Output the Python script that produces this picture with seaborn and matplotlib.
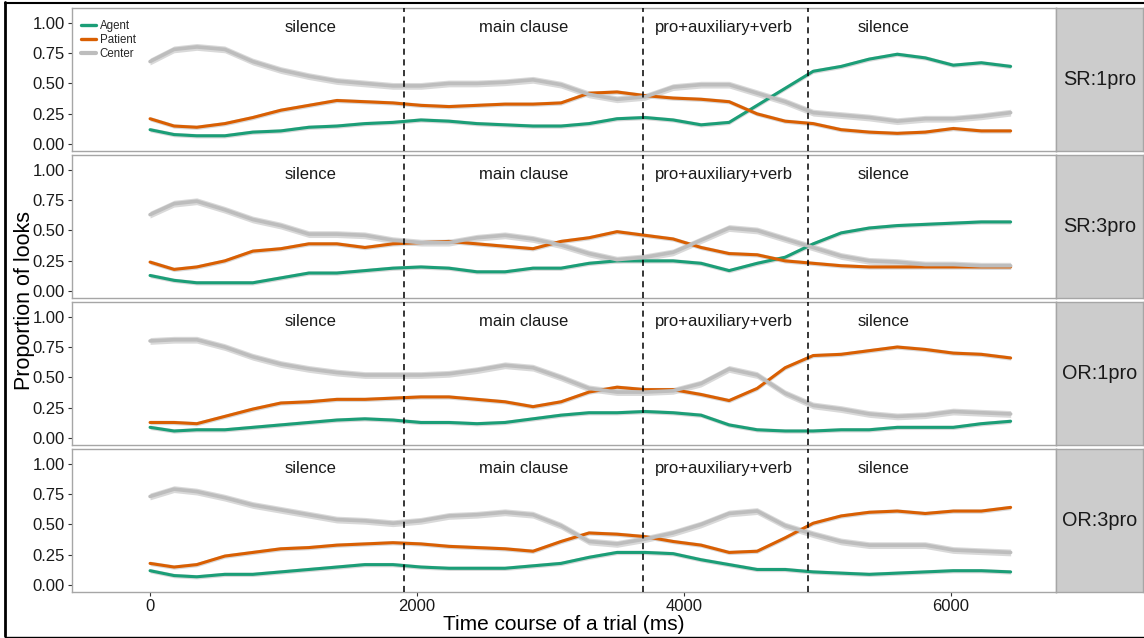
import numpy as np
import pandas as pd
import matplotlib
matplotlib.use("Agg")
import matplotlib.pyplot as plt
from matplotlib.lines import Line2D
import seaborn as sns

sns.set_theme(style="white")
plt.rcParams["font.family"] = ["Liberation Sans", "DejaVu Sans"]

# ---------------- data ----------------
time_ms = [0, 180, 350, 560, 770, 980, 1190, 1400, 1610, 1820, 2030, 2240, 2450, 2660,
           2870, 3080, 3290, 3500, 3710, 3920, 4130, 4340, 4550, 4760, 4970, 5180, 5390,
           5600, 5810, 6020, 6230, 6450]

conditions = ["SR:1pro", "SR:3pro", "OR:1pro", "OR:3pro"]
regions = ["Agent", "Patient", "Center"]

sr1_agent = [0.12, 0.08, 0.07, 0.07, 0.10, 0.11, 0.14, 0.15, 0.17, 0.18, 0.20, 0.19, 0.17, 0.16,
             0.15, 0.15, 0.17, 0.21, 0.22, 0.20, 0.16, 0.18, 0.32, 0.46, 0.60, 0.64, 0.70,
             0.74, 0.71, 0.65, 0.67, 0.64]
sr1_patient = [0.21, 0.15, 0.14, 0.17, 0.22, 0.28, 0.32, 0.36, 0.35, 0.34, 0.32, 0.31, 0.32, 0.33,
               0.33, 0.34, 0.42, 0.43, 0.40, 0.38, 0.37, 0.35, 0.25, 0.19, 0.17, 0.12, 0.10,
               0.09, 0.10, 0.13, 0.11, 0.11]
sr1_center = [0.68, 0.78, 0.80, 0.78, 0.68, 0.61, 0.56, 0.52, 0.50, 0.48, 0.48, 0.50, 0.50, 0.51,
              0.53, 0.49, 0.41, 0.37, 0.39, 0.47, 0.49, 0.49, 0.42, 0.35, 0.26, 0.24, 0.22,
              0.19, 0.21, 0.21, 0.23, 0.26]

sr3_agent = [0.13, 0.09, 0.07, 0.07, 0.07, 0.11, 0.15, 0.15, 0.17, 0.19, 0.20, 0.19, 0.16, 0.16,
             0.19, 0.19, 0.23, 0.25, 0.25, 0.25, 0.23, 0.17, 0.23, 0.28, 0.39, 0.48, 0.52,
             0.54, 0.55, 0.56, 0.57, 0.57]
sr3_patient = [0.24, 0.18, 0.20, 0.25, 0.33, 0.35, 0.39, 0.39, 0.36, 0.39, 0.40, 0.41, 0.39, 0.37,
               0.35, 0.41, 0.44, 0.49, 0.46, 0.43, 0.36, 0.31, 0.30, 0.25, 0.23, 0.21, 0.20,
               0.20, 0.20, 0.20, 0.20, 0.20]
sr3_center = [0.63, 0.72, 0.74, 0.67, 0.59, 0.54, 0.47, 0.47, 0.46, 0.42, 0.40, 0.40, 0.44, 0.46,
              0.43, 0.38, 0.31, 0.26, 0.28, 0.32, 0.42, 0.52, 0.50, 0.43, 0.36, 0.29, 0.25,
              0.24, 0.22, 0.22, 0.21, 0.21]

or1_agent = [0.09, 0.06, 0.07, 0.07, 0.09, 0.11, 0.13, 0.15, 0.16, 0.15, 0.13, 0.13, 0.12, 0.13,
             0.16, 0.19, 0.21, 0.21, 0.22, 0.21, 0.19, 0.11, 0.07, 0.06, 0.06, 0.07, 0.07,
             0.09, 0.09, 0.09, 0.12, 0.14]
or1_patient = [0.13, 0.13, 0.12, 0.18, 0.24, 0.29, 0.30, 0.32, 0.32, 0.33, 0.34, 0.34, 0.32, 0.30,
               0.26, 0.30, 0.38, 0.42, 0.40, 0.40, 0.36, 0.31, 0.41, 0.58, 0.68, 0.69, 0.72,
               0.75, 0.73, 0.70, 0.69, 0.66]
or1_center = [0.80, 0.81, 0.81, 0.75, 0.67, 0.61, 0.57, 0.54, 0.52, 0.52, 0.52, 0.53, 0.56, 0.60,
              0.58, 0.50, 0.41, 0.38, 0.38, 0.39, 0.45, 0.57, 0.52, 0.37, 0.27, 0.24, 0.20,
              0.18, 0.19, 0.22, 0.21, 0.20]

or3_agent = [0.12, 0.08, 0.07, 0.09, 0.09, 0.11, 0.13, 0.15, 0.17, 0.17, 0.15, 0.14, 0.14, 0.14,
             0.16, 0.18, 0.23, 0.27, 0.27, 0.26, 0.21, 0.17, 0.13, 0.13, 0.11, 0.10, 0.09,
             0.10, 0.11, 0.12, 0.12, 0.11]
or3_patient = [0.18, 0.15, 0.17, 0.24, 0.27, 0.30, 0.31, 0.33, 0.34, 0.35, 0.34, 0.32, 0.31, 0.30,
               0.28, 0.36, 0.43, 0.42, 0.40, 0.36, 0.33, 0.27, 0.28, 0.39, 0.51, 0.57, 0.60,
               0.61, 0.59, 0.61, 0.61, 0.64]
or3_center = [0.73, 0.79, 0.77, 0.72, 0.66, 0.62, 0.58, 0.54, 0.53, 0.51, 0.53, 0.57, 0.58, 0.60,
              0.58, 0.49, 0.36, 0.34, 0.38, 0.43, 0.50, 0.59, 0.61, 0.49, 0.42, 0.36, 0.33,
              0.33, 0.33, 0.29, 0.28, 0.27]

boundaries_ms = [1903, 3693, 4933]
segment_labels = ["silence", "main clause", "pro+auxiliary+verb", "silence"]
segment_centers_ms = [1206, 2800, 4300, 5500]
x_ticks = [0, 2000, 4000, 6000]
y_ticks = [0.00, 0.25, 0.50, 0.75, 1.00]

series = {
    "SR:1pro": {"Agent": sr1_agent, "Patient": sr1_patient, "Center": sr1_center},
    "SR:3pro": {"Agent": sr3_agent, "Patient": sr3_patient, "Center": sr3_center},
    "OR:1pro": {"Agent": or1_agent, "Patient": or1_patient, "Center": or1_center},
    "OR:3pro": {"Agent": or3_agent, "Patient": or3_patient, "Center": or3_center},
}

rows = []
for cond in conditions:
    for reg in regions:
        for t, v in zip(time_ms, series[cond][reg]):
            rows.append({"condition": cond, "region": reg, "time": t, "prop": v})
df = pd.DataFrame(rows)

# ---------------- styling ----------------
palette = {"Agent": "#1b9e77", "Patient": "#d95f02", "Center": "#bdbdbd"}
line_w = {"Agent": 2.2, "Patient": 2.2, "Center": 2.6}
band_w = {"Agent": 0.018, "Patient": 0.018, "Center": 0.028}
border_col = "#a6a6a6"
text_col = "#1a1a1a"

W, H = 1144, 638
fig = plt.figure(figsize=(W / 100, H / 100), dpi=100)

left_px, right_px, strip_right_px = 72, 1056, 1143
panel_h, gap = 143, 4
top0 = 8

axes = []
for i, cond in enumerate(conditions):
    top = top0 + i * (panel_h + gap)
    ax = fig.add_axes([left_px / W, 1 - (top + panel_h) / H,
                       (right_px - left_px) / W, panel_h / H])
    sax = fig.add_axes([right_px / W, 1 - (top + panel_h) / H,
                        (strip_right_px - right_px) / W, panel_h / H])
    sub = df[df["condition"] == cond]

    # ribbons
    for reg in regions:
        s = sub[sub["region"] == reg]
        ax.fill_between(s["time"], s["prop"] - band_w[reg], s["prop"] + band_w[reg],
                        color="#d0d0d0", alpha=0.8, lw=0, zorder=1)
    # lines
    for reg in regions:
        s = sub[sub["region"] == reg]
        sns.lineplot(data=s, x="time", y="prop", color=palette[reg], lw=line_w[reg],
                     ax=ax, label=reg, zorder=3, legend=False)

    for b in boundaries_ms:
        ax.axvline(b, color="black", lw=1.1, ls=(0, (4, 3)), zorder=4)
    for lab, xc in zip(segment_labels, segment_centers_ms):
        ax.text(xc, 0.96, lab, ha="center", va="center", fontsize=12, color=text_col)

    ax.set_xlim(-585, 6790)
    ax.set_ylim(-0.055, 1.12)
    ax.set_yticks(y_ticks)
    ax.set_yticklabels([f"{v:.2f}" for v in y_ticks])
    ax.set_xticks(x_ticks)
    ax.set_xlabel("")
    ax.set_ylabel("")
    ax.tick_params(axis="both", direction="out", length=3, width=0.8, color="#333333",
                   labelsize=12, labelcolor=text_col, pad=2, left=True, bottom=True)
    if i < 3:
        ax.tick_params(axis="x", bottom=False, labelbottom=False)
    ax.grid(False)
    for sp in ax.spines.values():
        sp.set_color(border_col)
        sp.set_linewidth(1.0)

    # strip
    sax.set_facecolor("#cccccc")
    sax.set_xticks([])
    sax.set_yticks([])
    for sp in sax.spines.values():
        sp.set_color(border_col)
        sp.set_linewidth(1.0)
    sax.text(0.5, 0.5, cond, ha="center", va="center", fontsize=14.3, color=text_col,
             transform=sax.transAxes)
    axes.append(ax)

# legend in first panel
handles = [Line2D([0], [0], color=palette[r], lw=2.4 if r != "Center" else 3.0) for r in regions]
axes[0].legend(handles, regions, loc="upper left", bbox_to_anchor=(0.004, 0.95),
               fontsize=8.3, frameon=False, handlelength=1.3, handletextpad=0.35,
               labelspacing=0.2, borderaxespad=0.2, borderpad=0.2)

fig.text(564 / W, 1 - 625 / H, "Time course of a trial (ms)", ha="center", va="center",
         fontsize=15, color="black")
fig.text(25 / W, 1 - 300 / H, "Proportion of looks", ha="center", va="center",
         rotation=90, fontsize=15.5, color="black")

# outer frame of the screenshot
fig.add_artist(Line2D([5 / W, 5 / W], [1 - 2 / H, 1 - 636 / H], transform=fig.transFigure,
                      color="black", lw=2.0))
fig.add_artist(Line2D([5 / W, 1.0], [1 - 2.5 / H, 1 - 2.5 / H], transform=fig.transFigure,
                      color="black", lw=1.5))
fig.add_artist(Line2D([5 / W, 1.0], [1 - 636.5 / H, 1 - 636.5 / H], transform=fig.transFigure,
                      color="black", lw=1.0))

fig.savefig("out.png", dpi=100, facecolor="white")
